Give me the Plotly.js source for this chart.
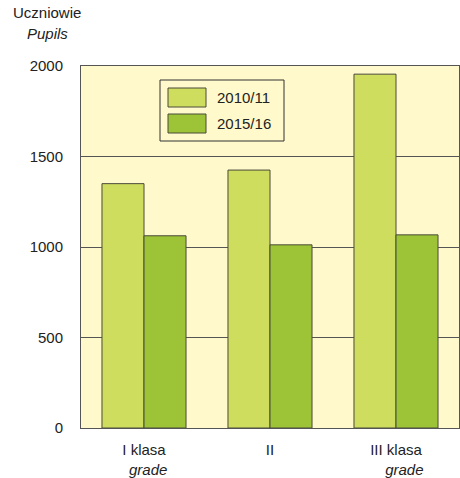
<!DOCTYPE html>
<html>
<head>
<meta charset="utf-8">
<script src="https://cdn.plot.ly/plotly-3.0.1.min.js"></script>
<style>html,body{margin:0;padding:0;background:#fff;}</style>
</head>
<body>
<div id="chart" style="width:460px;height:478px;"></div>
<script>
var categories = ["I klasa", "II", "III klasa"];
var tickLabels = ["I klasa<br>\u00a0\u00a0<i>grade</i>", "II", "III klasa<br>\u00a0\u00a0\u00a0\u00a0<i>grade</i>"];
var series2010 = [1350, 1425, 1955];
var series2015 = [1062, 1012, 1067];
var seriesNames = ["2010/11", "2015/16"];
var yTicks = [0, 500, 1000, 1500, 2000];

var colLight = "#CFDD5E", colDark = "#9DC437", outline = "#4a4a3a";
var font = "Liberation Sans, Arial, sans-serif";

var traces = [
  {type: "bar", x: categories, y: series2010, name: seriesNames[0],
   marker: {color: colLight, line: {color: outline, width: 1}}, showlegend: false, hoverinfo: "none"},
  {type: "bar", x: categories, y: series2015, name: seriesNames[1],
   marker: {color: colDark, line: {color: outline, width: 1}}, showlegend: false, hoverinfo: "none"}
];

// plot area in px: x 81..459, y 66..428
function px(x) { return (x - 81) / 378; }
function py(y) { return (428 - y) / 362; }

var shapes = [
  {type: "rect", xref: "paper", yref: "paper", x0: px(160), x1: px(284), y0: py(141), y1: py(80),
   line: {color: "#333", width: 1}, fillcolor: "rgba(0,0,0,0)"},
  {type: "rect", xref: "paper", yref: "paper", x0: px(168), x1: px(206), y0: py(107), y1: py(88),
   line: {color: outline, width: 1}, fillcolor: colLight},
  {type: "rect", xref: "paper", yref: "paper", x0: px(168), x1: px(206), y0: py(133), y1: py(114),
   line: {color: outline, width: 1}, fillcolor: colDark}
];

var annotations = [
  {xref: "paper", yref: "paper", x: px(215), y: py(97.5), text: seriesNames[0], showarrow: false,
   xanchor: "left", yanchor: "middle", font: {family: font, size: 15, color: "#222"}},
  {xref: "paper", yref: "paper", x: px(215), y: py(123.5), text: seriesNames[1], showarrow: false,
   xanchor: "left", yanchor: "middle", font: {family: font, size: 15, color: "#222"}},
  {xref: "paper", yref: "paper", x: px(47), y: py(13), text: "Uczniowie", showarrow: false,
   xanchor: "center", yanchor: "middle", font: {family: font, size: 15, color: "#222"}},
  {xref: "paper", yref: "paper", x: px(47.5), y: py(33), text: "<i>Pupils</i>", showarrow: false,
   xanchor: "center", yanchor: "middle", font: {family: font, size: 15, color: "#222"}}
];

var layout = {
  width: 460, height: 478,
  margin: {l: 81, r: 1, t: 66, b: 50, pad: 0},
  paper_bgcolor: "#ffffff",
  plot_bgcolor: "#FFF9CC",
  font: {family: font, size: 15, color: "#222"},
  barmode: "group",
  bargap: 0.333,
  bargroupgap: 0,
  xaxis: {
    type: "category", tickvals: categories, ticktext: tickLabels,
    showline: true, linecolor: "#555", linewidth: 1, mirror: true,
    showgrid: false, ticks: "outside", ticklen: 0, ticklabelstandoff: 8, fixedrange: true
  },
  yaxis: {
    range: [0, 2000], tickvals: yTicks, ticktext: yTicks.map(String),
    showline: true, linecolor: "#555", linewidth: 1, mirror: true,
    showgrid: true, gridcolor: "#555", gridwidth: 1, zeroline: false,
    ticks: "outside", ticklen: 0, ticklabelstandoff: 14, fixedrange: true
  },
  shapes: shapes,
  annotations: annotations,
  showlegend: false
};

Plotly.newPlot("chart", traces, layout, {displayModeBar: false, staticPlot: true});
</script>
</body>
</html>
